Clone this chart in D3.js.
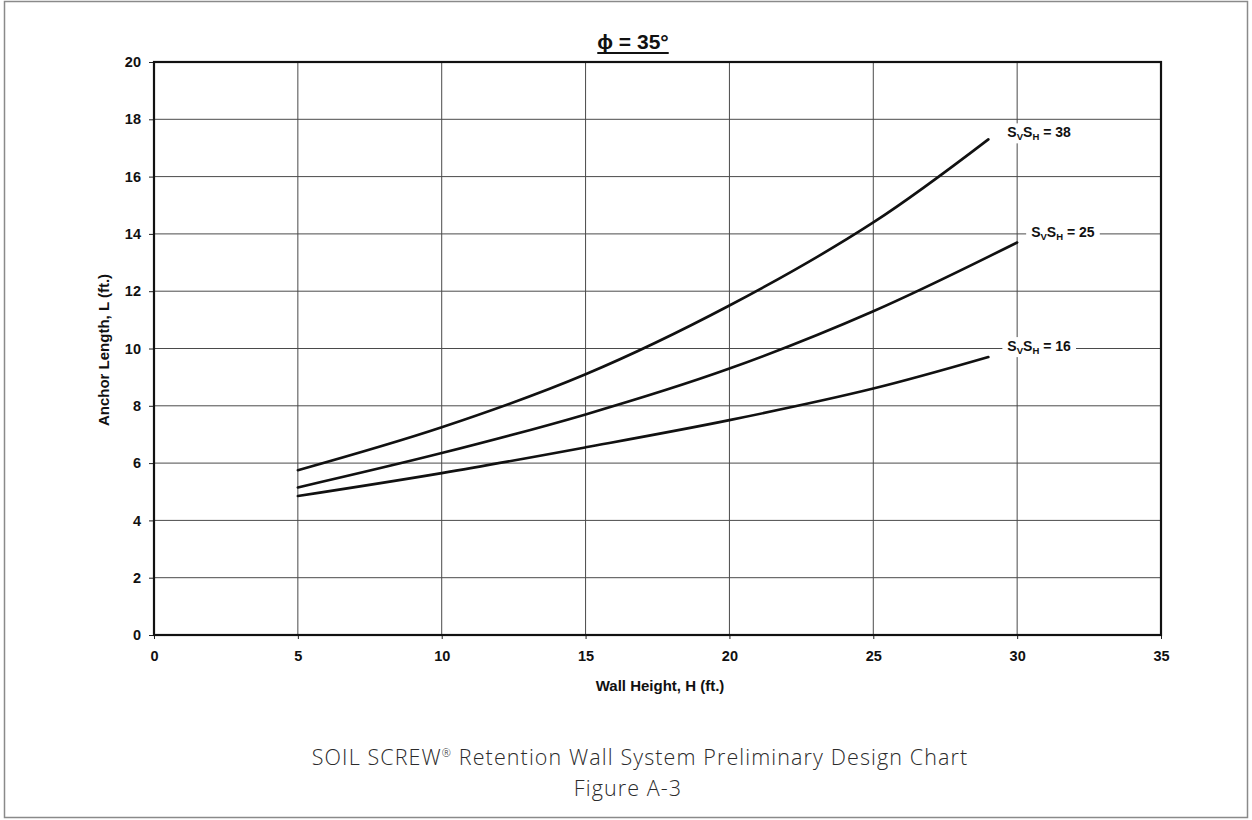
<!DOCTYPE html>
<html>
<head>
<meta charset="utf-8">
<script src="https://cdn.jsdelivr.net/npm/d3@7"></script>
<style>
  html, body { margin: 0; padding: 0; background: #fff; }
  svg { display: block; }
</style>
</head>
<body>
<svg id="chart" width="1252" height="820"></svg>
<script>
// Anchor length vs wall height, phi = 35 deg, for three screw spacings
const xTicks = [0, 5, 10, 15, 20, 25, 30, 35];
const yTicks = [0, 2, 4, 6, 8, 10, 12, 14, 16, 18, 20];

const heights38 = [5, 10, 15, 20, 25, 29];
const lengths38 = [5.75, 7.25, 9.1, 11.5, 14.4, 17.3];

const heights25 = [5, 10, 15, 20, 25, 30];
const lengths25 = [5.15, 6.35, 7.7, 9.3, 11.3, 13.7];

const heights16 = [5, 10, 15, 20, 25, 29];
const lengths16 = [4.85, 5.65, 6.55, 7.5, 8.6, 9.7];

const spacingValues = [38, 25, 16];

const svg = d3.select("#chart");

// outer frame
svg.append("rect")
  .attr("x", 4.5).attr("y", 1.5)
  .attr("width", 1243).attr("height", 816)
  .attr("fill", "none").attr("stroke", "#8a8a8a").attr("stroke-width", 1.5);

const x = d3.scaleLinear().domain([0, 35]).range([154, 1161]);
const y = d3.scaleLinear().domain([0, 20]).range([635, 62]);

const font = "'Liberation Sans', Arial, sans-serif";

// gridlines
const grid = svg.append("g").attr("stroke", "#4a4a4a").attr("stroke-width", 1);
xTicks.filter(v => v > 0 && v < 35).forEach(v => {
  grid.append("line")
    .attr("x1", x(v)).attr("x2", x(v))
    .attr("y1", y(20)).attr("y2", y(0));
});
yTicks.filter(v => v > 0 && v < 20).forEach(v => {
  grid.append("line")
    .attr("x1", x(0)).attr("x2", x(35))
    .attr("y1", y(v)).attr("y2", y(v));
});

// axes
const yAxis = svg.append("g")
  .attr("transform", `translate(${x(0)},0)`)
  .call(d3.axisLeft(y).tickValues(yTicks).tickSize(5).tickPadding(8).tickFormat(d3.format("d")));
const xAxis = svg.append("g")
  .attr("transform", `translate(0,${y(0)})`)
  .call(d3.axisBottom(x).tickValues(xTicks).tickSize(4).tickPadding(12).tickFormat(d3.format("d")));
[yAxis, xAxis].forEach(a => {
  a.select(".domain").remove();
  a.selectAll("line").attr("stroke", "#222").attr("stroke-width", 1);
  a.selectAll("text")
    .attr("font-family", font).attr("font-weight", "bold")
    .attr("font-size", 14.5).attr("fill", "#111");
});

// plot border
svg.append("rect")
  .attr("x", x(0)).attr("y", y(20))
  .attr("width", x(35) - x(0)).attr("height", y(0) - y(20))
  .attr("fill", "none").attr("stroke", "#111").attr("stroke-width", 2.2);

// curves
const line = d3.line()
  .x(d => x(d[0])).y(d => y(d[1]))
  .curve(d3.curveCatmullRom.alpha(0.5));

const series = [
  { h: heights38, l: lengths38 },
  { h: heights25, l: lengths25 },
  { h: heights16, l: lengths16 }
];
series.forEach(s => {
  svg.append("path")
    .datum(s.h.map((h, i) => [h, s.l[i]]))
    .attr("d", line)
    .attr("fill", "none")
    .attr("stroke", "#111")
    .attr("stroke-width", 2.6)
    .attr("stroke-linecap", "round");
});

// curve labels, placed at the end of each curve
const labelPos = [
  { dx: 19, dy: -2 },
  { dx: 14, dy: -5 },
  { dx: 19, dy: -6 }
];
spacingValues.forEach((v, i) => {
  const s = series[i];
  const n = s.h.length - 1;
  const px = x(s.h[n]) + labelPos[i].dx;
  const py = y(s.l[n]) + labelPos[i].dy;
  const g = svg.append("g");
  const bg = g.append("rect").attr("fill", "#fff");
  const t = g.append("text")
    .attr("x", px).attr("y", py)
    .attr("font-family", font).attr("font-weight", "bold")
    .attr("font-size", 14).attr("fill", "#111");
  t.append("tspan").text("S");
  t.append("tspan").attr("font-size", 9.5).attr("dy", 3).text("V");
  t.append("tspan").attr("dy", -3).text("S");
  t.append("tspan").attr("font-size", 9.5).attr("dy", 3).text("H");
  t.append("tspan").attr("dy", -3).text(" = " + v);
  const bb = t.node().getBBox();
  bg.attr("x", bb.x - 5).attr("y", bb.y - 1)
    .attr("width", bb.width + 10).attr("height", bb.height + 2);
});

// title
const title = svg.append("text")
  .attr("x", 633).attr("y", 49)
  .attr("text-anchor", "middle")
  .attr("font-family", font).attr("font-weight", "bold")
  .attr("font-size", 21).attr("fill", "#111")
  .text("ϕ = 35°");
const tb = title.node().getBBox();
svg.append("line")
  .attr("x1", tb.x).attr("x2", tb.x + tb.width)
  .attr("y1", 53).attr("y2", 53)
  .attr("stroke", "#111").attr("stroke-width", 1.8);

// axis titles
svg.append("text")
  .attr("x", 660).attr("y", 691)
  .attr("text-anchor", "middle")
  .attr("font-family", font).attr("font-weight", "bold")
  .attr("font-size", 15).attr("fill", "#111")
  .text("Wall Height, H (ft.)");
svg.append("text")
  .attr("transform", "translate(109,350) rotate(-90)")
  .attr("text-anchor", "middle")
  .attr("font-family", font).attr("font-weight", "bold")
  .attr("font-size", 15).attr("fill", "#111")
  .text("Anchor Length, L (ft.)");

// caption
const cap = svg.append("g")
  .attr("font-family", "'Open Sans', Lato, sans-serif")
  .attr("font-weight", 300).attr("font-size", 21.5)
  .attr("letter-spacing", 1.1)
  .attr("fill", "#2b2b2b").attr("text-anchor", "middle");
const line1 = cap.append("text").attr("x", 640).attr("y", 765);
line1.append("tspan").text("SOIL SCREW");
line1.append("tspan").attr("font-size", 11).attr("dy", -8).text("\u00AE");
line1.append("tspan").attr("dy", 8).text(" Retention Wall System Preliminary Design Chart");
cap.append("text").attr("x", 628).attr("y", 796).text("Figure A-3");
</script>
</body>
</html>
